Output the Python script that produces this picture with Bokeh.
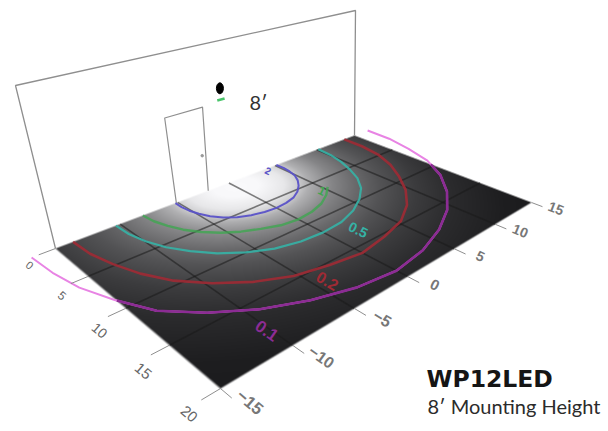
import numpy as np
from bokeh.plotting import figure
from bokeh.models import Range1d
from bokeh.core.properties import value
from bokeh.embed import file_html
from bokeh.resources import INLINE

# ---- chart data (feet on the floor; radii)
U_TICKS = [0, 5, 10, 15, 20]
V_TICKS = [15, 10, 5, 0, -5, -10, -15]
U_LABELS = ["0", "5", "10", "15", "20"]
V_LABELS = ["15", "10", "5", "0", "\u22125", "\u221210", "\u221215"]
ANGLES = [-90, -80, -70, -60, -50, -40, -30, -20, -10, 0, 10, 20, 30, 40, 50, 60, 70, 80, 90]
BLUE_R = [5.2, 5.3, 5.45, 5.62, 5.85, 6.05, 6.2, 6.25, 6.3, 6.33, 6.3, 6.27, 6.12, 5.95, 5.8, 5.65, 5.45, 5.3, 5.15]
GREEN_ANGLES = [-90, -80, -70, -60, -50, -40, -30, -20, -10, 0, 10, 20, 30, 40]
GREEN_R = [8.1, 8.1, 8.1, 8.2, 8.3, 8.4, 8.5, 8.6, 8.85, 8.95, 8.9, 8.8, 8.6, 8.4]
CYAN_R = [10.35, 10.45, 10.6, 10.8, 11.0, 11.3, 11.5, 11.7, 11.75, 11.75, 11.75, 11.6, 11.4, 11.2, 10.9, 10.55, 10.35, 10.25, 10.2]
RED_R = [13.7, 13.8, 13.95, 14.3, 14.7, 15.0, 15.3, 15.55, 15.55, 15.8, 15.6, 15.6, 15.3, 14.9, 14.5, 14.3, 14.1, 13.8, 13.6]
PURPLE_R = [16.7, 16.75, 17.05, 17.4, 18.0, 18.2, 18.4, 18.55, 18.8, 19.0, 18.85, 18.65, 18.5, 18.3, 18.1, 17.8, 17.3, 17.05, 16.85]
LEVEL_LABELS = ["2", "1", "0.5", "0.2", "0.1"]
LEVEL_LABEL_U = [0.4, 6.6, 13.3, 16.6, 17.9]
LEVEL_LABEL_V = [3.9, 4.6, 2.1, -4.1, -10.2]
GLOW_R = [0, 2, 4, 5, 6, 8, 10, 12, 15, 18, 22, 26]
GLOW_GREY = [250, 248, 232, 210, 176, 134, 106, 84, 60, 43, 30, 26]
MOUNT_HEIGHT = 8
FIXTURE_HEIGHT = 9
WALL_HEIGHT = 13
DOOR_BOTTOM_V = [-5.1, -2.06]
DOOR_TOP_V = [-5.1, -1.75]
DOOR_HEIGHT = 7.8

BLUE, GREEN, CYAN, RED, PURPLE, PINK = "#5a52c8", "#3fa650", "#35b3a6", "#a02a34", "#8c2c94", "#e884e4"

W, H = 608, 431
LEFT, TOP = 0, 0


def homography(src, dst):
    a, b = [], []
    for (x, y), (X, Y) in zip(src, dst):
        a.append([x, y, 1, 0, 0, 0, -x * X, -y * X])
        a.append([0, 0, 0, x, y, 1, -x * Y, -y * Y])
        b += [X, Y]
    return np.append(np.linalg.solve(np.array(a, float), np.array(b, float)), 1).reshape(3, 3)


FLOOR = homography([(0, -15), (0, 15), (20, 15), (20, -15)], [(55, 248), (354, 135), (531, 202), (220, 388)])
WALL = homography([(-15, 0), (15, 0), (15, WALL_HEIGHT), (-15, WALL_HEIGHT)], [(55, 248), (354, 135), (355, 10), (15, 85)])
FLOOR_INV = np.linalg.inv(FLOOR)


def apply(m, a, b):
    a, b = np.asarray(a, float), np.asarray(b, float)
    w = m[2, 0] * a + m[2, 1] * b + m[2, 2]
    return (m[0, 0] * a + m[0, 1] * b + m[0, 2]) / w, -(m[1, 0] * a + m[1, 1] * b + m[1, 2]) / w


p = figure(width=W, height=H, output_backend="svg", toolbar_location=None,
           x_range=Range1d(LEFT, LEFT + W), y_range=Range1d(-(TOP + H), -TOP),
           min_border=0, outline_line_color=None)
p.axis.visible = False
p.grid.visible = False
p.background_fill_color = "#ffffff"
p.border_fill_color = "#ffffff"

# ---- floor shading
x0, x1, y0, y1 = 50, 536, 130, 392
px, py = np.meshgrid(np.arange(x0, x1) + .5, np.arange(y0, y1) + .5)
q = np.stack([px, py, np.ones_like(px)])
uvw = np.tensordot(FLOOR_INV, q, axes=1)
fu, fv = uvw[0] / uvw[2], uvw[1] / uvw[2]
grey = np.interp(np.hypot(fu - 1.0, fv), GLOW_R, GLOW_GREY)
alpha = np.clip(np.minimum.reduce([fu, 20 - fu, fv + 15, 15 - fv]) * 7 + .5, 0, 1)
rgba = np.zeros(px.shape + (4,), dtype=np.uint8)
rgba[..., 0] = rgba[..., 1] = grey.astype(np.uint8)
rgba[..., 2] = np.clip(grey + 2, 0, 255).astype(np.uint8)
rgba[..., 3] = (alpha * 255).astype(np.uint8)
view = rgba.view(dtype=np.uint32).reshape(px.shape)[::-1]
p.image_rgba(image=[view], x=x0, y=-y1, dw=x1 - x0, dh=y1 - y0)

# ---- wall and door
wx, wy = apply(WALL, [-15, -15, 15, 15], [0, WALL_HEIGHT, WALL_HEIGHT, 0])
p.line(wx, wy, line_color="#8f8f8f", line_width=1.3)
dx, dy = apply(WALL, [DOOR_BOTTOM_V[0], DOOR_TOP_V[0], DOOR_TOP_V[1], DOOR_BOTTOM_V[1]], [0, DOOR_HEIGHT, DOOR_HEIGHT, 0])
p.line(dx, dy, line_color="#8f8f8f", line_width=1.2)
kx, ky = apply(WALL, [DOOR_BOTTOM_V[1] - .2], [3.5])
p.scatter(kx, ky, size=2.5, color="#999999")

# ---- grid
for u in U_TICKS[1:-1]:
    gx, gy = apply(FLOOR, [u, u], [-15, 15])
    p.line(gx, gy, line_color="#1a1a1a", line_alpha=.55, line_width=1.6)
for v in V_TICKS[1:-1]:
    gx, gy = apply(FLOOR, [0, 20], [v, v])
    p.line(gx, gy, line_color="#1a1a1a", line_alpha=.55, line_width=1.6)

# ---- contours
for angles, radii, col, width, alpha_ in [(ANGLES, BLUE_R, BLUE, 2, .95), (GREEN_ANGLES, GREEN_R, GREEN, 2.4, .8),
                                          (ANGLES, CYAN_R, CYAN, 2.2, .9), (ANGLES, RED_R, RED, 2.6, .9)]:
    th = np.radians(angles)
    r = np.array(radii)
    cx, cy = apply(FLOOR, r * np.cos(th), r * np.sin(th))
    p.line(cx, cy, line_color=col, line_width=width, line_alpha=alpha_)
th = np.radians(ANGLES)
r = np.array(PURPLE_R)
cu, cv = r * np.cos(th), r * np.sin(th)
cx, cy = apply(FLOOR, cu, cv)
p.line(cx, cy, line_color=PINK, line_width=2)
ins = np.where(np.abs(cv) <= 15)[0]
a0, a1 = ins[0], ins[-1]
f0 = (-15 - cv[a0 - 1]) / (cv[a0] - cv[a0 - 1])
f1 = (15 - cv[a1]) / (cv[a1 + 1] - cv[a1])
iu = np.r_[cu[a0 - 1] + f0 * (cu[a0] - cu[a0 - 1]), cu[ins], cu[a1] + f1 * (cu[a1 + 1] - cu[a1])]
iv = np.r_[-15, cv[ins], 15]
ix, iy = apply(FLOOR, iu, iv)
p.line(ix, iy, line_color=PURPLE, line_width=2.6)


def u_dir(u, v):
    ax, ay = apply(FLOOR, [u], [v])
    bx, by = apply(FLOOR, [u + 1], [v])
    dx_, dy_ = float(bx[0] - ax[0]), float(by[0] - ay[0])
    return float(np.arctan2(dy_, dx_)), float(np.hypot(dx_, dy_))


for txt, u, v, col in zip(LEVEL_LABELS, LEVEL_LABEL_U, LEVEL_LABEL_V, [BLUE, GREEN, CYAN, RED, PURPLE]):
    ang, s = u_dir(u, v)
    lx, ly = apply(FLOOR, [u], [v])
    p.text(lx, ly, text=[txt], angle=ang, text_color=col, text_align="center", text_baseline="middle",
           text_font=value("Liberation Sans"), text_font_style="bold", text_font_size=f"{s * 1.3:.0f}px")

# ---- edge ticks and labels
for u, txt in zip(U_TICKS, U_LABELS):
    tx, ty = apply(FLOOR, [u, u], [-15, -16.2])
    p.line(tx, ty, line_color="#8f8f8f", line_width=1)
    ang, s = u_dir(u, -15)
    lx, ly = apply(FLOOR, [min(u + .9, 20.4)], [-17.2])
    p.text(lx, ly, text=[txt], angle=ang, text_color="#666666", text_align="center", text_baseline="middle",
           text_font=value("Liberation Sans"), text_font_size=f"{min(max(s * 1.3, 11), 15):.0f}px")
for v, txt in zip(V_TICKS, V_LABELS):
    tx, ty = apply(FLOOR, [20, 21], [v, v])
    p.line(tx, ty, line_color="#8f8f8f", line_width=1)
    ang, s = u_dir(20, v)
    lx, ly = apply(FLOOR, [21.9], [v + .5])
    p.text(lx, ly, text=[txt], angle=ang, text_color="#777777", text_align="center", text_baseline="middle",
           text_font=value("Liberation Sans"), text_font_style="bold", text_font_size=f"{s * 1.15:.0f}px")

# ---- fixture and texts
fx, fy = apply(WALL, [0.0], [FIXTURE_HEIGHT])
p.ellipse(fx, fy, width=7, height=11, color="#000000")
mx, my = apply(WALL, [-.35, .35], [MOUNT_HEIGHT, MOUNT_HEIGHT])
p.line(mx, my, line_color="#49c46a", line_width=2.5)
p.text([249], [-113], text=["8\u2032"], text_color="#333333", text_font=value("Lato"), text_font_size="20px")
p.text([426], [-392], text=["WP12LED"], text_color="#151515", text_font=value("DejaVu Sans"),
       text_font_style="bold", text_font_size="23.5px")
p.text([427], [-417], text=["8\u2032 Mounting Height"], text_color="#2b2b2b", text_font=value("Lato"),
       text_font_size="20px")

open("out.html", "w").write(file_html(p, INLINE))
